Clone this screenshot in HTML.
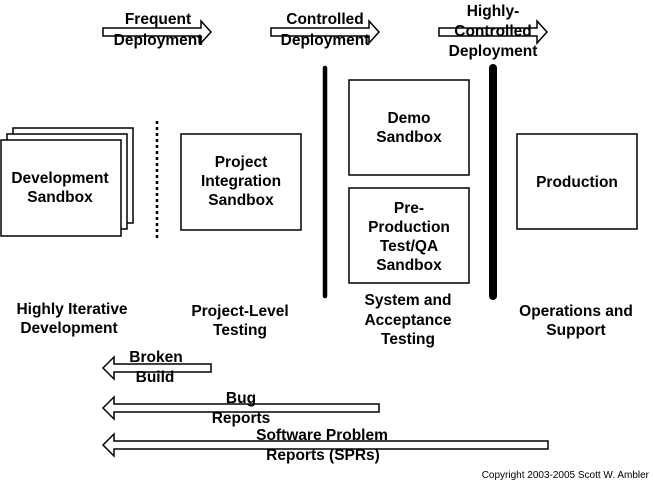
<!DOCTYPE html>
<html><head><style>
html,body{margin:0;padding:0;background:#fff;}
svg text{font-family:"Liberation Sans",Arial,sans-serif;font-weight:bold;font-size:15.5px;fill:#000;text-anchor:middle;}
</style></head><body>
<svg width="653" height="483" viewBox="0 0 653 483" xmlns="http://www.w3.org/2000/svg">
<g fill="#fff" stroke="#000" stroke-width="1.5">
<path d="M103,28 H201 V21 L211,32 L201,43 V36 H103 Z"/>
<path d="M271,28 H369 V21 L379,32 L369,43 V36 H271 Z"/>
<path d="M439,28 H537 V21 L547,32 L537,43 V36 H439 Z"/>
<path d="M211,364 H114 V357 L103,368 L114,379 V372 H211 Z"/>
<path d="M379,404 H114 V397 L103,408 L114,419 V412 H379 Z"/>
<path d="M548,441 H114 V434 L103,445 L114,456 V449 H548 Z"/>
<rect x="13" y="128" width="120" height="95"/>
<rect x="7" y="134" width="120" height="95"/>
<rect x="1" y="140" width="120" height="96"/>
<rect x="181" y="134" width="120" height="96"/>
<rect x="349" y="80" width="120" height="95"/>
<rect x="349" y="188" width="120" height="95"/>
<rect x="517" y="134" width="120" height="95"/>
</g>
<line x1="157" y1="121" x2="157" y2="238" stroke="#000" stroke-width="2.5" stroke-dasharray="3,3"/>
<line x1="325" y1="68" x2="325" y2="296" stroke="#000" stroke-width="4.5" stroke-linecap="round"/>
<line x1="493" y1="68" x2="493" y2="296" stroke="#000" stroke-width="8" stroke-linecap="round"/>
<text x="158" y="24">Frequent</text><text x="158" y="45">Deployment</text>
<text x="325" y="24">Controlled</text><text x="325" y="45">Deployment</text>
<text x="493" y="16">Highly-</text><text x="493" y="36">Controlled</text><text x="493" y="56">Deployment</text>
<text x="60" y="183">Development</text><text x="60" y="202">Sandbox</text>
<text x="241" y="167">Project</text><text x="241" y="186">Integration</text><text x="241" y="205">Sandbox</text>
<text x="409" y="123">Demo</text><text x="409" y="142">Sandbox</text>
<text x="409" y="213">Pre-</text><text x="409" y="232">Production</text><text x="409" y="251">Test/QA</text><text x="409" y="270">Sandbox</text>
<text x="577" y="187">Production</text>
<text x="72" y="314">Highly Iterative</text><text x="69" y="333">Development</text>
<text x="240" y="316">Project-Level</text><text x="240" y="335">Testing</text>
<text x="408" y="305">System and</text><text x="408" y="325">Acceptance</text><text x="408" y="344">Testing</text>
<text x="576" y="316">Operations and</text><text x="576" y="335">Support</text>
<text x="156" y="362">Broken</text><text x="155" y="382">Build</text>
<text x="241" y="403">Bug</text><text x="241" y="423">Reports</text>
<text x="322" y="440">Software Problem</text><text x="323" y="460">Reports (SPRs)</text>
<text x="649" y="478" style="font-weight:normal;font-size:10px;text-anchor:end">Copyright 2003-2005 Scott W. Ambler</text>
</svg>
</body></html>
